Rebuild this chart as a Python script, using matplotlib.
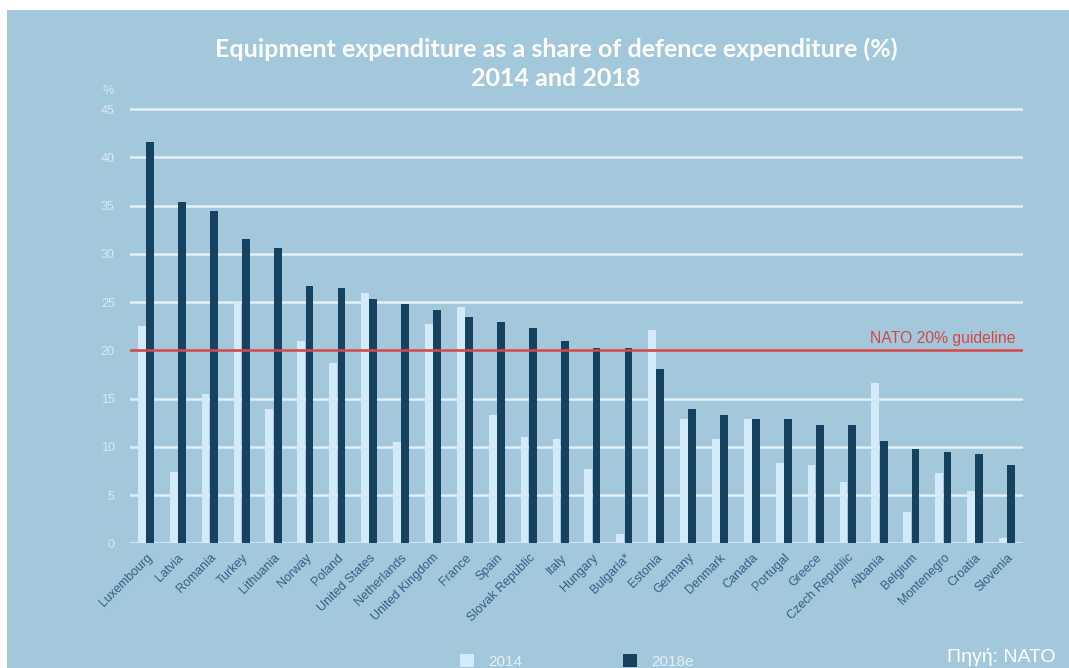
import matplotlib
matplotlib.use("Agg")
import matplotlib.pyplot as plt
from matplotlib.patches import Rectangle, Patch
import numpy as np

countries = ["Luxembourg", "Latvia", "Romania", "Turkey", "Lithuania", "Norway", "Poland",
             "United States", "Netherlands", "United Kingdom", "France", "Spain",
             "Slovak Republic", "Italy", "Hungary", "Bulgaria*", "Estonia", "Germany",
             "Denmark", "Canada", "Portugal", "Greece", "Czech Republic", "Albania",
             "Belgium", "Montenegro", "Croatia", "Slovenia"]
values_2014 = [22.5, 7.4, 15.5, 25.0, 13.9, 21.0, 18.7, 25.9, 10.5, 22.7, 24.5, 13.3,
               11.0, 10.8, 7.7, 1.0, 22.1, 12.9, 10.8, 12.9, 8.3, 8.1, 6.4, 16.6,
               3.3, 7.3, 5.4, 0.6]
values_2018 = [41.6, 35.4, 34.4, 31.5, 30.6, 26.7, 26.5, 25.3, 24.8, 24.2, 23.5, 22.9,
               22.3, 21.0, 20.2, 20.2, 18.1, 13.9, 13.3, 12.9, 12.9, 12.3, 12.3, 10.6,
               9.8, 9.5, 9.3, 8.1]
yticks = [0, 5, 10, 15, 20, 25, 30, 35, 40, 45]
guideline = 20
series_labels = ["2014", "2018e"]

BG = "#a3c8dc"
LIGHT = "#d3eafa"
DARK = "#15425f"
GRID = "#e4eff5"
RED = "#d2474a"
LABEL = "#2f6184"
TICK = "#dce9f1"

W, H = 1069, 668
fig = plt.figure(figsize=(W / 100, H / 100), dpi=100, facecolor="white")
fig.add_artist(Rectangle((7 / W, 0), 1 - 7 / W, (H - 10) / H, transform=fig.transFigure,
                         facecolor=BG, edgecolor="none", zorder=-10))

ax_left, ax_right = 130, 1023
y0_px, unit = 543.4, 9.65
ymax = 46
ax_bottom = (H - y0_px) / H
ax_height = ymax * unit / H
ax = fig.add_axes([ax_left / W, ax_bottom, (ax_right - ax_left) / W, ax_height])
ax.set_facecolor("none")

x = np.arange(len(countries))
bw = 0.245
off = 0.13
ax.bar(x - off, values_2014, width=bw, color=LIGHT, zorder=3)
ax.bar(x + off, values_2018, width=bw, color=DARK, zorder=3)

ax.set_xlim(-0.5, len(countries) - 0.5)
ax.set_ylim(0, ymax)
for s in ax.spines.values():
    s.set_visible(False)
ax.set_yticks(yticks)
ax.yaxis.grid(True, color=GRID, linewidth=1.8, zorder=1)
ax.set_axisbelow(True)
ax.tick_params(axis="y", length=0, pad=11, labelcolor=TICK, labelsize=9)
for lab in ax.get_yticklabels():
    lab.set_family(["Liberation Sans", "DejaVu Sans"])

ax.set_xticks(x)
ax.set_xticklabels(countries, rotation=45, ha="right", va="top", rotation_mode="anchor",
                   fontsize=9, color=LABEL, family=["Liberation Sans", "DejaVu Sans"])
ax.tick_params(axis="x", length=0, pad=6)

ax.axhline(guideline, color=RED, linewidth=1.9, zorder=4)
ax.text(0.992, guideline + 0.45, "NATO 20% guideline", transform=ax.get_yaxis_transform(),
        ha="right", va="bottom", color=RED, fontsize=11.3,
        family=["Liberation Sans", "DejaVu Sans"])

fig.text(108 / W, 1 - 91 / H, "%", ha="center", va="center", color=TICK, fontsize=9,
         family=["Liberation Sans", "DejaVu Sans"])

fig.text(556 / W, 1 - 49 / H, "Equipment expenditure as a share of defence expenditure (%)",
         ha="center", va="center", color="white", fontsize=18, fontweight="bold",
         family=["Lato", "DejaVu Sans"])
fig.text(556 / W, 1 - 78 / H, "2014 and 2018", ha="center", va="center", color="white",
         fontsize=18, fontweight="bold", family=["Lato", "DejaVu Sans"])

handles = [Patch(facecolor=LIGHT, edgecolor="none"), Patch(facecolor=DARK, edgecolor="none")]
leg = fig.legend(handles, series_labels, ncol=2, loc="upper left",
                 bbox_to_anchor=(446 / W, 1 - 640 / H), frameon=False,
                 handlelength=0.95, handleheight=0.95, handletextpad=0.9,
                 columnspacing=6.6, prop={"family": ["Liberation Sans", "DejaVu Sans"], "size": 11})
for t in leg.get_texts():
    t.set_color("#e6f0f6")

fig.text(1056 / W, 1 - 657 / H, "Πηγή: NATO", ha="right", va="center", color="white",
         fontsize=14, family=["Liberation Sans", "DejaVu Sans"])

fig.savefig("out.png", dpi=100, facecolor="white")
